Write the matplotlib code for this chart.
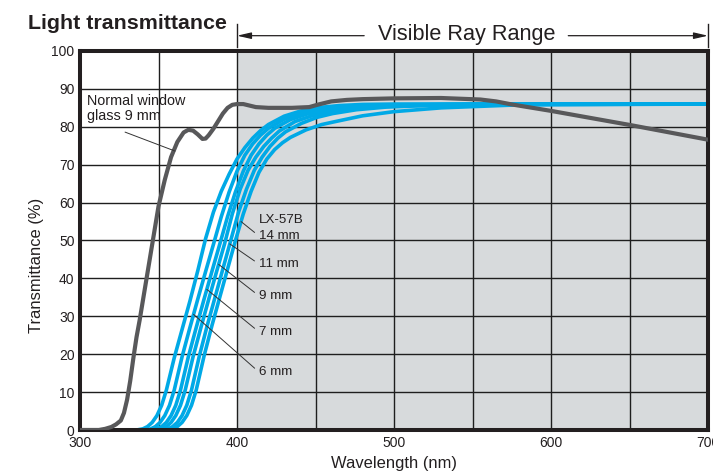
import numpy as np
import matplotlib
matplotlib.use('Agg')
import matplotlib.pyplot as plt

plt.rcParams['font.family'] = ['Liberation Sans', 'DejaVu Sans']

# ---- data ----
# LX-57B curves: wavelength (nm) -> transmittance (%), one pair per curve
lx_wl1 = [300, 336, 340, 343, 346, 349, 352, 355, 360, 365, 370, 375, 380, 385,
          390, 395, 400, 405, 410, 415, 420, 430, 440, 450, 465, 480, 500, 700]
lx_t1 = [0, 0, 0.3, 0.9, 2, 3.8, 6.5, 10.5, 19, 26.5, 34, 42, 50.5, 57.5,
         63, 67.5, 71.5, 74.5, 77, 79, 80.6, 82.8, 84.1, 85, 85.6, 85.9, 86, 86]

lx_wl2 = [300, 341, 345, 348, 351, 354, 357, 360, 365, 370, 375, 380, 385, 390,
          395, 400, 405, 410, 415, 420, 430, 440, 450, 465, 480, 500, 550, 700]
lx_t2 = [0, 0, 0.3, 0.9, 2, 3.8, 6.5, 10.5, 19.3, 27, 34.5, 41.8, 49, 56.3,
         62.8, 68.3, 72.5, 75.5, 77.8, 79.6, 82, 83.5, 84.4, 85.2, 85.6, 85.8, 86, 86]

lx_wl3 = [300, 345, 349, 352, 355, 358, 361, 364, 369, 374, 379, 384, 389, 394,
          399, 404, 409, 414, 419, 424, 434, 444, 454, 469, 484, 504, 554, 700]
lx_t3 = [0, 0, 0.3, 0.9, 2, 3.8, 6.5, 10.5, 19.3, 27, 34.5, 41.8, 49, 56.3,
         62.8, 68.3, 72.5, 75.5, 77.8, 79.6, 81.9, 83.3, 84.2, 85, 85.4, 85.7, 86, 86]

lx_wl4 = [300, 348, 352, 355, 358, 361, 364, 367, 372, 377, 382, 387, 392, 397,
          402, 407, 412, 417, 422, 427, 437, 447, 457, 472, 490, 510, 560, 700]
lx_t4 = [0, 0, 0.3, 0.9, 2, 3.8, 6.5, 10.5, 19.3, 27, 34.5, 41.8, 49, 57,
         63.5, 68.5, 72, 74.8, 77, 78.9, 81.4, 82.8, 83.8, 84.7, 85.3, 85.6, 85.9, 86]

lx_wl5 = [300, 352, 356, 359, 362, 365, 368, 371, 376, 381, 386, 391, 396, 401,
          406, 411, 416, 421, 426, 431, 441, 451, 461, 476, 495, 520, 570, 700]
lx_t5 = [0, 0, 0.3, 0.9, 2, 3.8, 6.5, 10.5, 19.5, 27.5, 35, 42.5, 50, 57.5,
         63.5, 68.5, 72, 74.8, 77, 78.7, 80.9, 82.5, 83.5, 84.5, 85.2, 85.6, 85.9, 86]

lx_wl6 = [300, 355, 359, 362, 365, 368, 371, 374, 379, 384, 389, 394, 399, 404,
          409, 414, 419, 424, 429, 434, 444, 454, 464, 480, 500, 530, 580, 700]
lx_t6 = [0, 0, 0.3, 0.9, 2, 3.8, 6.5, 10.5, 19.5, 27.5, 35, 42.5, 50, 57,
         63, 68, 71.5, 74, 75.8, 77.2, 79.2, 80.6, 81.5, 82.9, 84, 85, 85.8, 86]

lx_wls = [lx_wl1, lx_wl2, lx_wl3, lx_wl4, lx_wl5, lx_wl6]
lx_ts = [lx_t1, lx_t2, lx_t3, lx_t4, lx_t5, lx_t6]
lx_labels = ['', '6 mm', '7 mm', '9 mm', '11 mm', '14 mm']

# normal window glass 9 mm
glass_wl = [300, 312, 316, 320, 323, 326, 328, 330, 332, 334, 336, 338, 342,
            346, 350, 354, 358, 362, 366, 369, 372, 375, 378, 380, 382, 385,
            388, 391, 394, 397, 400, 404, 408, 412, 420, 435, 446, 452, 460,
            470, 480, 500, 530, 555, 565, 575, 600, 650, 700]
glass_t = [0, 0, 0.3, 0.8, 1.5, 2.5, 4.5, 8, 13, 19, 24.5, 29, 39,
           49, 59, 66, 72, 76, 78.5, 79.2, 79, 78, 76.8, 76.9, 77.8, 79.5,
           81.5, 83.5, 85, 85.8, 86, 86, 85.6, 85.2, 85, 85, 85.2, 85.9, 86.7,
           87.1, 87.3, 87.5, 87.6, 87.2, 86.7, 85.9, 84.2, 80.5, 76.6]

# ---- styling ----
ink = '#231f20'
blue = '#00a9e6'
grey_line = '#58585a'
shade = '#d7dadc'
narrow = ['Liberation Sans Narrow', 'Liberation Sans', 'DejaVu Sans']

fig = plt.figure(figsize=(7.13, 4.73), dpi=100)
ax = fig.add_axes([80/713, 43/473, 628/713, 379/473])

ax.axvspan(400, 700, color=shade, zorder=0.1, lw=0)

for x, y in zip(lx_wls, lx_ts):
    ax.plot(x, y, color=blue, lw=2.6, zorder=2)
ax.plot(glass_wl, glass_t, color=grey_line, lw=3.0, zorder=3)

ax.set_xlim(300, 700)
ax.set_ylim(0, 100)
ax.set_xticks(np.arange(300, 701, 100))
ax.set_xticks(np.arange(350, 700, 100), minor=True)
ax.set_yticks(np.arange(0, 101, 10))
ax.set_axisbelow(True)
ax.grid(True, which='both', color='#1e1e1e', lw=1.0)
ax.tick_params(which='both', length=0, labelsize=10, colors=ink)
ax.tick_params(axis='x', pad=4.0)
ax.tick_params(axis='y', pad=4.0)
for lbl in ax.get_xticklabels() + ax.get_yticklabels():
    lbl.set_fontfamily(narrow)

for sp in ax.spines.values():
    sp.set_linewidth(2.9)
    sp.set_color(ink)

ax.set_xlabel('Wavelength (nm)', fontsize=11.9, color=ink)
ax.xaxis.set_label_coords(0.5, -0.1013)
ax.xaxis.label.set_va('baseline')
ax.set_ylabel('Transmittance (%)', fontsize=11.9, color=ink)
ax.yaxis.set_label_coords(-0.0685, 0.434)
ax.yaxis.label.set_va('center')

# title
fig.text(28/713, 1 - 29.3/473, 'Light transmittance', fontsize=15.4,
         fontweight='bold', color=ink, va='baseline')

# visible ray range marker
tr = ax.get_xaxis_transform()
ya = 1.0404
ax.text(546.5, 1.029, 'Visible Ray Range', transform=tr, fontsize=15.6,
        color=ink, ha='center', va='baseline')
head = '-|>,head_length=0.7,head_width=0.16'
ax.annotate('', xy=(400, ya), xytext=(481, ya), xycoords=tr, textcoords=tr,
            arrowprops=dict(arrowstyle=head, lw=0.9, color=ink,
                            mutation_scale=12, shrinkA=0, shrinkB=0),
            annotation_clip=False)
ax.annotate('', xy=(700, ya), xytext=(611, ya), xycoords=tr, textcoords=tr,
            arrowprops=dict(arrowstyle=head, lw=0.9, color=ink,
                            mutation_scale=12, shrinkA=0, shrinkB=0),
            annotation_clip=False)
for xb in (400, 700):
    ax.plot([xb, xb], [1.0106, 1.0712], transform=tr, color=ink, lw=1.0,
            clip_on=False)

# glass label
ax.text(304.5, 84.8, 'Normal window\nglass 9 mm', fontsize=10.4, color=ink,
        ha='left', va='center', linespacing=1.05)
ax.annotate('', xy=(360.5, 73.6), xytext=(328.7, 78.6),
            arrowprops=dict(arrowstyle='-', lw=0.7, color='#333333',
                            shrinkA=0, shrinkB=0))

# LX-57B labels with leader lines
ax.text(414, 54.6, 'LX-57B', fontsize=9.6, color=ink, ha='left', va='baseline')
lead_y = [None, 30.5, 37.1, 43.7, 49.1, 55.0]
text_y = [None, 14.5, 25.1, 34.6, 43.0, 50.4]
for x, y, lab, ly, ty in zip(lx_wls, lx_ts, lx_labels, lead_y, text_y):
    if not lab:
        continue
    lx = np.interp(ly, y[1:-3], x[1:-3])
    ax.annotate(lab, xy=(lx, ly), xytext=(414, ty), fontsize=9.6, color=ink,
                ha='left', va='baseline',
                arrowprops=dict(arrowstyle='-', lw=0.7, color='#333333',
                                shrinkA=1.5, shrinkB=0, relpos=(0, 0.5)))

fig.savefig('out.png', dpi=100)
